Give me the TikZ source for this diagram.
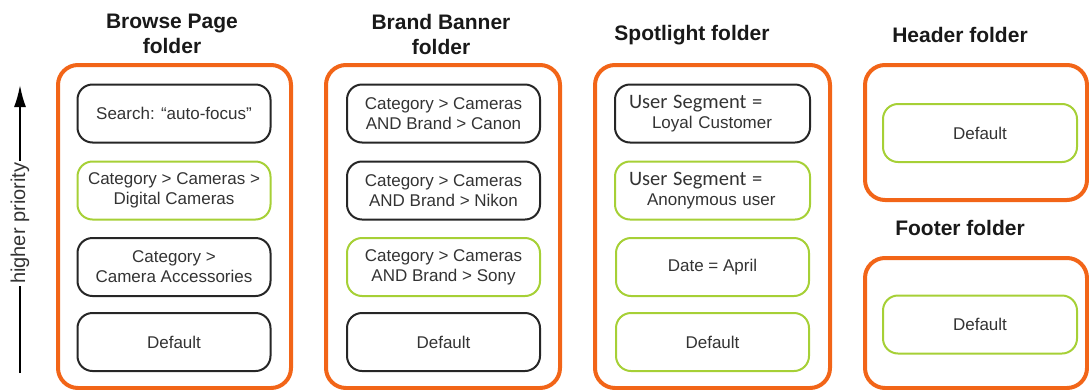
\documentclass[tikz,border=0pt]{standalone}
\usepackage{fontspec}
\setmainfont{Liberation Sans}
\newfontfamily\segfont{Carlito}
\usetikzlibrary{arrows.meta}

\definecolor{folderorange}{RGB}{242,101,24}
\definecolor{rulegreen}{RGB}{166,208,54}
\definecolor{textgray}{RGB}{51,51,51}

\tikzset{
	folder/.style={draw=folderorange, line width=4pt, rounded corners=20pt, inner sep=0pt},
	rule/.style={draw=black!85, line width=2pt, rounded corners=15pt, minimum width=193pt, minimum height=58pt, align=center, text=textgray, font=\fontsize{17}{20}\selectfont},
	active/.style={rule, draw=rulegreen},
	segment/.style={text width=167pt, inner xsep=14pt, align=left},
	title/.style={font=\bfseries\fontsize{21}{25}\selectfont, align=center, text=black!90},
}
\newcommand{\seg}{{\segfont\fontsize{20.5}{20}\selectfont User Segment =}}

\begin{document}
\begin{tikzpicture}[x=1pt, y=-1pt]
		\useasboundingbox (0, 0) rectangle (1089, 389);

		% priority arrow
		\coordinate (low) at (20, 373);
		\coordinate (high) at (20, 85);
		\draw[line width=2pt, -{Latex[length=22pt, width=12pt]}] (low) -- node[pos=0.52, rotate=90, fill=white, inner sep=2pt, font=\fontsize{20}{24}\selectfont, text=textgray] {higher priority} (high);

		% folders
		\node[folder, minimum width=233pt, minimum height=323pt] (browse) at (174.5, 226.5) {};
		\node[folder, minimum width=234pt, minimum height=323pt] (brand) at (443, 226.5) {};
		\node[folder, minimum width=235pt, minimum height=323pt] (spot) at (712.5, 226.5) {};
		\node[folder, minimum width=222pt, minimum height=135pt] (header) at (976, 132.5) {};
		\node[folder, minimum width=222pt, minimum height=130pt] (footer) at (976, 323) {};

		\node[title] (browsetitle) at (172, 34) {Browse Page\\folder};
		\node[title] (brandtitle) at (441, 34) {Brand Banner\\folder};
		\node[title] (spottitle) at (692, 35) {Spotlight folder};
		\node[title] (headertitle) at (960, 35) {Header folder};
		\node[title] (footertitle) at (960, 228) {Footer folder};

		% browse page rules
		\node[rule] (search) at (174, 113.5) {Search: \textquotedblleft auto-focus"};
		\node[active] (digital) at (174, 190.5) {Category > Cameras >\\Digital Cameras};
		\node[rule] (accessories) at (174, 267) {Category >\\Camera Accessories};
		\node[rule] (browsedefault) at (174, 342) {Default};

		% brand banner rules
		\node[rule] (canon) at (443.5, 113.5) {Category > Cameras\\AND Brand > Canon};
		\node[rule] (nikon) at (443.5, 190.5) {Category > Cameras\\AND Brand > Nikon};
		\node[active] (sony) at (443.5, 267) {Category > Cameras\\AND Brand > Sony};
		\node[rule] (branddefault) at (443.5, 342) {Default};

		% spotlight rules
		\node[rule, segment] (loyal) at (712.5, 113.5) {\seg\\\hspace*{23pt}Loyal Customer};
		\node[active, segment] (anonymous) at (712.5, 190.5) {\seg\\\hspace*{18pt}Anonymous user};
		\node[active] (april) at (712.5, 267) {Date = April};
		\node[active] (spotdefault) at (712.5, 342) {Default};

		% header and footer rules
		\node[active, minimum width=194pt] (headerdefault) at (980, 133) {Default};
		\node[active, minimum width=194pt] (footerdefault) at (980, 324.5) {Default};
	\end{tikzpicture}
\end{document}
